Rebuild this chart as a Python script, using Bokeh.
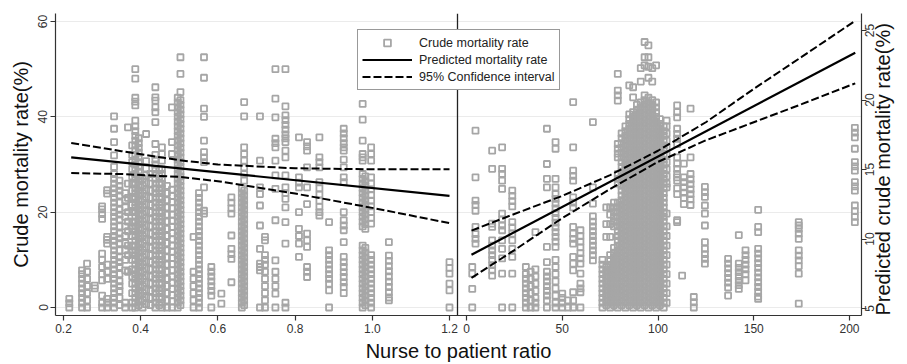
import math
from bokeh.plotting import figure
from bokeh.models import (Range1d, LinearAxis, FixedTicker, CustomJSTickFormatter,
                          Span, Legend, LegendItem)
from bokeh.embed import file_html
from bokeh.resources import INLINE

# ------------------------------------------------------------------ data
nurse_ticks = [0.2, 0.4, 0.6, 0.8, 1.0, 1.2]
density_ticks = [0, 50, 100, 150, 200]
crude_ticks = [0, 20, 40, 60]
pred_ticks = [5, 10, 15, 20, 25]

# crude mortality (%) by nurse-to-patient ratio: (ratio, [crude values])
nurse_cols_low = [
    (0.215, [0, 0.9, 1.8]),
    (0.248, [0, 1, 2, 3, 4, 5, 6, 7, 7.8]),
    (0.261, [0, 1.5, 3, 4.5, 6, 7.5, 9.2]),
    (0.281, [4.0, 4.6]),
    (0.300, [0, 1, 2.5, 5.7, 7, 8.5, 10, 11.3, 18.6, 19.6, 20.6, 21.2]),
    (0.313, [0, 1, 1.8, 6, 7.5, 9, 13.4, 14.2, 14.8, 23.9, 24.6]),
    (0.331, [0, 1, 2, 3, 4, 5, 6, 7, 8, 9, 10, 11, 12, 13, 14, 15, 16, 17, 18, 19, 20,
             21, 22, 23, 24, 25, 26, 27, 28, 29.5, 31.9, 34.7, 37.5, 40.1]),
    (0.345, [0.5, 2, 3.5, 4.5, 5.5, 7, 8.5, 9.5, 10.5, 12, 13.5, 14.5, 15.5, 17, 18.5,
             19.5, 20.5, 22, 23.5, 24.5, 25.5, 26.6]),
    (0.360, [0, 1, 7.8, 10, 12, 13.5, 15, 17, 19, 21, 22.5, 24]),
    (0.367, [7.5, 11, 13, 16, 18, 20, 23, 26, 37.8]),
    (0.378, [0, 1, 3, 5, 6.5, 8, 10, 11.5, 13, 15, 16.5, 18, 20, 21.5, 23, 24.5, 26, 27.5,
             29, 30.5, 32, 34]),
    (0.386, [0, 1, 2, 3, 4, 5, 6, 7, 8, 9, 10, 11, 12, 13, 14, 15, 16, 17, 18, 19, 20, 21,
             22, 23, 24, 25, 26, 27, 28, 29, 30, 31, 32, 33, 34, 35, 36, 37, 38, 39.2, 42.4,
             43.2, 44, 48, 50]),
    (0.395, [0.5, 1.5, 2.5, 3.5, 4.5, 5.5, 6.5, 7.5, 8.5, 9.5, 10.5, 11.5, 12.5, 13.5,
             14.5, 15.5, 16.5, 17.5, 18.5, 19.5, 20.5, 21.5, 22.5, 23.5, 24.5, 25.5, 26.5,
             27.5, 28.5, 29.5, 30.5, 31.5, 32.5, 33.5, 34.5, 35.5]),
    (0.405, [0, 1.5, 3, 4.5, 6, 7.5, 9, 10.5, 12, 13.5, 15, 16.5, 18, 19.5, 21, 22.5, 24,
             25.5, 27]),
    (0.414, [0.7, 2.2, 3.7, 5.2, 6.7, 8.2, 9.7, 11.2, 12.7, 14.2, 15.7, 17.2, 18.7, 20.2,
             21.7, 23.2, 24.7, 26.2, 27.7, 29.2, 30.7, 36.4]),
]
nurse_cols_mid = [
    (0.425, [0.5, 2, 3.5, 5, 6.5, 8, 9.5, 11, 12.5, 14, 15.5, 17, 18.5, 20, 21.5, 23, 24.5,
             26, 28]),
    (0.438, [0, 1, 2, 3, 4, 5, 6, 7, 8, 9, 10, 11, 12, 13, 14, 15, 16, 17, 18, 19, 20, 21,
             22, 23, 24, 25, 26, 27, 28, 29, 30, 31, 32, 34.3, 38.9, 41, 42, 43.4, 44.1,
             46.2]),
    (0.448, [0.5, 2, 3.5, 5, 6.5, 8, 9.5, 11, 12.5, 14, 15.5, 17, 18.5, 20, 21.5, 23, 24.5,
             26, 27.5, 29]),
    (0.455, [0, 1, 2, 3, 4, 5, 6, 7, 8, 9, 10, 11, 12, 13, 14, 15, 16, 17, 18, 19, 20, 21,
             22, 23, 24, 25, 26, 27, 28, 29, 30.8, 32.2, 33.6]),
    (0.468, [0, 1.5, 3, 4.5, 6, 7.5, 9, 10.5, 12, 13.5, 15, 16.5, 18, 19.5, 21, 22.5, 24,
             25.5]),
    (0.481, [0, 1.3, 2.6, 3.9, 5.2, 6.5, 7.8, 9.1, 10.4, 11.7, 13, 14.3, 15.6, 16.9, 18.2,
             19.5, 20.8, 22.1, 23.4, 24.7, 32.2, 34.7, 42]),
    (0.496, [0, 1, 2, 3, 4, 5, 6, 7, 8, 9, 10, 11, 12, 13, 14, 15, 16, 17, 18, 19, 20, 21,
             22, 23, 24, 25, 26, 27, 28, 29, 30, 31, 32, 33, 34, 35, 36, 37, 38, 39, 40, 41,
             42, 43, 44]),
    (0.503, [0.5, 1.5, 2.5, 3.5, 4.5, 5.5, 6.5, 7.5, 8.5, 9.5, 10.5, 11.5, 12.5, 13.5,
             14.5, 15.5, 16.5, 17.5, 18.5, 19.5, 20.5, 21.5, 22.5, 23.5, 24.5, 25.5, 26.5,
             27.5, 28.5, 29.5, 30.5, 31.5, 32.5, 33.5, 34.5, 35.5, 36.5, 37.5, 38.5, 39.5,
             40.5, 41.5, 42.5, 43.5, 45.2, 49, 52.5]),
    (0.537, [0, 1.5, 3, 4.5, 6, 7.5, 14.8]),
    (0.551, [0, 1, 2, 3, 4, 5, 6, 7, 8, 9, 10, 11, 12, 13, 14, 15, 16, 17, 18, 19, 20, 21,
             22, 23, 24]),
    (0.564, [19.7, 20.3, 25.2, 30.5, 31.5, 32.6, 35, 40, 41.7, 48.2, 52.5]),
    (0.583, [0, 2.5, 3.5, 4.5, 5.5, 6.5, 7.5, 8.5]),
]
nurse_cols_high = [
    (0.609, [0.8, 2.9]),
    (0.635, [5.3, 10.2, 11.2, 12.3, 15.1, 19.7, 20.8, 22, 23.1]),
    (0.662, [0, 1, 2, 3, 4, 5, 6, 7, 8, 9, 10, 11, 12, 13, 14, 15, 16, 17, 18, 19, 20, 21,
             22, 23, 24, 25]),
    (0.668, [0.5, 1.5, 2.5, 3.5, 4.5, 5.5, 6.5, 7.5, 8.5, 9.5, 10.5, 11.5, 12.5, 13.5,
             14.5, 15.5, 16.5, 17.5, 18.5, 19.5, 20.5, 21.5, 22.5, 23.5, 24.5, 26.6, 28,
             29.4, 30.8, 32.2, 33.6, 40.1, 43.1]),
    (0.709, [0, 7.8, 8.5, 9.2, 12.3, 17.2, 21.4, 23.8, 25.2, 30.8, 40.1]),
    (0.722, [0, 1.5, 3, 4.5, 6, 7.5, 9, 10, 11, 14.1, 14.8]),
    (0.749, [0, 2.9, 4.5, 6, 7.5, 9.9, 18.3, 24.9, 27.7, 30.8, 33.6, 34.5, 35.4, 39.9,
             43.8, 50]),
    (0.775, [0, 1, 13.4, 17.9, 21, 22.8, 24, 25.2, 27.7, 31.5, 32.9, 34.7, 35.5, 36.3,
             37.3, 38.3, 39.3, 40.3, 42.2, 50]),
    (0.810, [10.6, 13.4, 15, 16.5, 20, 25.2, 26.2, 27.3, 35.7]),
    (0.831, [6.4, 7.5, 8.5, 12.7, 14.1, 15.5, 21.7, 25.2, 29.4, 32.9, 33.8, 34.7]),
    (0.863, [19.3, 20, 21.1, 22.4, 23.7, 25, 26.3, 29.4, 30.5, 31.5, 35.7]),
    (0.888, [0, 3.6, 5, 6, 7, 8, 9, 10, 11, 12, 17.9]),
    (0.926, [3, 4.3, 5.3, 6.4, 7.4, 8.5, 9.5, 10.6, 13.7, 16.2, 17.2, 18.3, 20, 26.3,
             27.3, 29.4, 31, 32.9, 33.6, 34.5, 35.5, 36.5, 37.5]),
    (0.975, [0, 1, 2, 3, 4, 5, 6, 7, 8, 9, 10, 11, 12, 13, 17, 18, 19, 20, 21, 22, 23, 24,
             25, 26, 27, 28, 30.8, 31.5, 32.2, 35, 39.4, 42.7]),
    (0.982, [0.5, 1.5, 2.5, 3.5, 4.5, 5.5, 6.5, 7.5, 8.5, 9.5, 10.5, 11.5, 12.5, 16.5,
             17.5, 18.5, 19.5, 20.5, 21.5, 22.5, 23.5, 24.5, 25.5, 26.5, 27.5]),
    (0.997, [0, 1, 2, 3, 4, 5, 6, 7, 8, 9, 10, 11, 17.6, 18.8, 20, 21.2, 22.4, 23.6, 24.8,
             26, 27.3, 30.8, 32.2, 33.6]),
    (1.043, [1.5, 2.1, 3.2, 4.3, 5.4, 6.5, 7.6, 8.7, 9.8, 10.9, 13.7]),
    (1.200, [0, 3.6, 5, 7.1, 8.3, 9.5]),
]

# crude mortality (%) by patient density (%): (density, [crude values])
density_cols_low = [
    (3.0, [0, 3.9, 7.1, 8.5]),
    (4.7, [13.4, 14.4, 15.4, 16.9, 20.3, 21.5, 22.4, 27.3, 37.1]),
    (13.4, [6.7, 7.8, 8.9, 10, 11, 12, 13, 14.1, 16.9, 17.6, 29.1, 32.9]),
    (18.6, [0, 7.1, 10.3, 12.3, 14.1, 16.2, 17.2, 18.5, 19.7, 24.9, 26.6, 28, 29.1, 33.6]),
    (23.9, [0, 7.1, 10.6, 12.3, 14.1, 15.5, 16.8, 17.9, 21.2, 22.3, 23.4, 24.5]),
    (31.0, [0, 1, 2, 3, 4, 5, 6, 7, 8.5]),
    (33.5, [0, 1.5, 3, 4.5, 6, 7.5]),
    (36.0, [0, 1, 2, 3.5, 5, 6.5, 8, 15.8]),
    (42.0, [0, 1.5, 2.5, 3.5, 4.5, 5.5, 6.5, 7.5, 9.5, 12.7, 25.2, 27, 30.1, 37.5]),
    (46.5, [0, 1, 2.5, 4, 5.5, 7, 8.5, 10, 12.7, 13.8, 14.8, 15.8, 16.8, 17.8, 18.8, 19.8,
            20.8, 21.8, 22.8, 23.8, 25.2, 27, 33.3, 34.7]),
    (50.0, [0, 1, 2, 2.9]),
    (53.0, [0, 1.5]),
    (55.7, [0, 1.5, 3.2, 7.8, 9.2, 10.6, 13.4, 14.4, 15.5, 16.9, 21, 22, 23.1, 26.6, 27.6,
            28.7, 33.6, 43.1]),
    (59.5, [0, 3.2, 4, 5, 7.1, 9.2, 10.3, 11.4, 12.6, 13.8, 15, 16.2]),
    (66.0, [9.9, 11, 12, 13, 14, 15, 16, 17, 18, 19.1, 21.8, 25.2, 38.9]),
]
density_cols_core = [
    (71, [0, 1, 2, 3, 4, 5, 6, 7, 8, 9, 10]),
    (73, [0.5, 1.5, 2.5, 3.5, 4.5, 5.5, 6.5, 7.5, 8.5, 14.8, 17.5, 21]),
    (75, [0, 1, 2, 3, 4, 5, 6, 7, 8, 9, 10, 11, 14.8, 17.5, 19.5, 21]),
    (77, [0.5, 1.5, 2.5, 3.5, 4.5, 5.5, 6.5, 7.5, 8.5, 9.5, 10.5, 11.5, 12.5, 17, 18, 19,
          20, 21, 22]),
    (79, [0, 1, 2, 3, 4, 5, 6, 7, 8, 9, 10, 11, 12, 13, 14, 15, 16, 17, 18, 19, 20, 21, 22,
          26, 27, 28, 31.5, 32.3, 33.3, 34.3, 43.4, 44.5, 45.5, 49]),
    (81, [0.5, 1.5, 2.5, 3.5, 4.5, 5.5, 6.5, 7.5, 8.5, 9.5, 10.5, 11.5, 12.5, 13.5, 14.5,
          15.5, 16.5, 17.5, 18.5, 19.5, 20.5, 21.5, 22.5, 23.5, 24.5, 25.5, 26.5, 27.5,
          28.5, 29.5, 30.5, 31.5, 32.5, 33.5, 34.5, 35.5, 36.5]),
    (83, [0, 1, 2, 3, 4, 5, 6, 7, 8, 9, 10, 11, 12, 13, 14, 15, 16, 17, 18, 19, 20, 21, 22,
          23, 24, 25, 26, 27, 28, 29, 30, 31, 32, 33, 34, 35, 36, 37, 38]),
    (85, [0.5, 1.5, 2.5, 3.5, 4.5, 5.5, 6.5, 7.5, 8.5, 9.5, 10.5, 11.5, 12.5, 13.5, 14.5,
          15.5, 16.5, 17.5, 18.5, 19.5, 20.5, 21.5, 22.5, 23.5, 24.5, 25.5, 26.5, 27.5,
          28.5, 29.5, 30.5, 31.5, 32.5, 33.5, 34.5, 35.5, 36.5, 37.5, 38.5, 39.5, 40.5,
          46.6]),
    (87, [0, 1, 2, 3, 4, 5, 6, 7, 8, 9, 10, 11, 12, 13, 14, 15, 16, 17, 18, 19, 20, 21, 22,
          23, 24, 25, 26, 27, 28, 29, 30, 31, 32, 33, 34, 35, 36, 37, 38, 39, 40, 41, 44.1,
          46.2]),
    (89, [0.5, 1.5, 2.5, 3.5, 4.5, 5.5, 6.5, 7.5, 8.5, 9.5, 10.5, 11.5, 12.5, 13.5, 14.5,
          15.5, 16.5, 17.5, 18.5, 19.5, 20.5, 21.5, 22.5, 23.5, 24.5, 25.5, 26.5, 27.5,
          28.5, 29.5, 30.5, 31.5, 32.5, 33.5, 34.5, 35.5, 36.5, 37.5, 38.5, 39.5, 40.5,
          41.5, 42.5]),
    (91, [0, 1, 2, 3, 4, 5, 6, 7, 8, 9, 10, 11, 12, 13, 14, 15, 16, 17, 18, 19, 20, 21, 22,
          23, 24, 25, 26, 27, 28, 29, 30, 31, 32, 33, 34, 35, 36, 37, 38, 39, 40, 41, 42,
          43, 47.4, 50.2]),
    (93, [0.5, 1.5, 2.5, 3.5, 4.5, 5.5, 6.5, 7.5, 8.5, 9.5, 10.5, 11.5, 12.5, 13.5, 14.5,
          15.5, 16.5, 17.5, 18.5, 19.5, 20.5, 21.5, 22.5, 23.5, 24.5, 25.5, 26.5, 27.5,
          28.5, 29.5, 30.5, 31.5, 32.5, 33.5, 34.5, 35.5, 36.5, 37.5, 38.5, 39.5, 40.5,
          41.5, 42.5, 43.5, 44.5, 50.8, 52.5, 55.7]),
    (95, [0, 1, 2, 3, 4, 5, 6, 7, 8, 9, 10, 11, 12, 13, 14, 15, 16, 17, 18, 19, 20, 21, 22,
          23, 24, 25, 26, 27, 28, 29, 30, 31, 32, 33, 34, 35, 36, 37, 38, 39, 40, 41, 42,
          43, 44, 48.2, 50.5, 52.5, 55]),
    (97, [0.5, 1.5, 2.5, 3.5, 4.5, 5.5, 6.5, 7.5, 8.5, 9.5, 10.5, 11.5, 12.5, 13.5, 14.5,
          15.5, 16.5, 17.5, 18.5, 19.5, 20.5, 21.5, 22.5, 23.5, 24.5, 25.5, 26.5, 27.5,
          28.5, 29.5, 30.5, 31.5, 32.5, 33.5, 34.5, 35.5, 36.5, 37.5, 38.5, 39.5, 40.5,
          41.5, 42.5, 43.5, 47.4, 50.2]),
    (99, [0, 1, 2, 3, 4, 5, 6, 7, 8, 9, 10, 11, 12, 13, 14, 15, 16, 17, 18, 19, 20, 21, 22,
          23, 24, 25, 26, 27, 28, 29, 30, 31, 32, 33, 34, 35, 36, 37, 38, 39, 40, 41, 42,
          43, 50.8]),
    (101, [0.5, 1.5, 2.5, 3.5, 4.5, 5.5, 6.5, 7.5, 8.5, 9.5, 10.5, 11.5, 12.5, 13.5, 14.5,
           15.5, 16.5, 17.5, 18.5, 19.5, 20.5, 21.5, 22.5, 23.5, 24.5, 25.5, 26.5, 27.5,
           28.5, 29.5, 30.5, 31.5, 32.5, 33.5, 34.5, 35.5, 36.5, 37.5, 38.5, 39.5]),
    (103, [0, 1, 2, 3, 4, 5, 6, 7, 8, 9, 10, 11, 12, 13, 14, 15, 16, 17, 18, 19, 20, 21,
           22, 23, 24, 25, 26, 27, 28, 29, 30, 31, 32, 33, 34, 35, 36, 37, 38]),
    (104.5, [1, 3, 5, 7, 9, 11, 13, 15, 17, 19.7, 25.2, 26, 27.5, 29, 30.5, 32, 33.5, 35,
             36.5, 38, 39.2]),
]
density_cols_high = [
    (110.0, [17.9, 18.3, 23.8, 25, 26.6, 27.3, 28, 29.1, 30.2, 31.5, 34.3, 35.4, 36.4,
             37.5, 39.9, 41, 42.4]),
    (112.6, [6.7]),
    (113.5, [21.7, 23, 24.1, 25.2, 26.3, 27.3, 30.2]),
    (117.0, [21.5, 22.7, 23.8, 24.8, 25.9, 26.9, 28, 31.5, 41.7]),
    (118.7, [0, 1.1, 2.2]),
    (124.5, [9.2, 10.2, 11.2, 12.3, 13.7, 17.2, 19.7, 21.4, 23.2, 24.2, 25.3]),
    (136.6, [2.5, 4.2, 5.2, 6.2, 7.2, 8.2, 9.2, 10.2]),
    (142.2, [3.9, 4.7, 5.6, 6.5, 7.4, 8.3, 9.2, 15.2]),
    (145.7, [5.7, 7, 8, 9, 10, 11, 12]),
    (152.3, [1.8, 2.3, 3.3, 4.3, 5.3, 6.3, 7.3, 8.3, 9.3, 10.3, 11.3, 12.3, 15.8, 16.9,
             20.5]),
    (173.5, [0.8, 7.1, 8.7, 9.9, 10.9, 12, 14.4, 15.5, 16.5, 17.2, 17.9]),
    (202.8, [17.9, 19, 20.2, 21.4, 24.5, 25.4, 26.3, 28.7, 29.6, 30.5, 33.3, 35.7, 36.7,
             37.7]),
]

# fitted lines
nurse_fit_x = [0.22, 1.2]
nurse_fit_y = [31.5, 23.4]
nurse_ci_x = [0.22, 0.35, 0.5, 0.6, 0.8, 1.0, 1.2]
nurse_ci_up = [34.5, 32.8, 30.9, 30.0, 29.2, 29.0, 29.0]
nurse_ci_lo = [28.2, 28.0, 27.4, 26.5, 23.9, 20.9, 17.7]

dens_fit_x = [2.6, 203]
dens_fit_y = [8.86, 23.4]          # predicted crude mortality (%), right axis
dens_ci_x = [2.6, 25, 50, 75, 100, 125, 150, 175, 203]
dens_ci_up = [10.6, 11.8, 13.1, 14.6, 16.35, 18.4, 20.8, 23.1, 25.7]
dens_ci_lo = [7.2, 9.2, 11.5, 13.6, 15.55, 17.1, 18.4, 19.7, 21.2]

# ------------------------------------------------------------------ layout
W, H = 907, 364
BL, BR, BT, BB = 55, 46, 13, 49
FW = W - BL - BR
FH = H - BT - BB
N_PX = 386.0                  # px per nurse-ratio unit
D_PX = 1.915                  # px per density unit
C_PX = 4.767                  # px per crude % unit
PR_PX = 13.9                  # px per predicted % unit
n_start = 0.2 - 8 / N_PX
n_end = n_start + FW / N_PX
n_div = 1.2 + 8 / N_PX
div_px = (n_div - n_start) * N_PX
d_start = -(div_px + 9) / D_PX
d_end = d_start + FW / D_PX
c_start = -8 / C_PX
c_end = c_start + FH / C_PX
p_start = 5 - 7 / PR_PX
p_end = p_start + FH / PR_PX

FONT = "Liberation Sans"
TICK_FS = 12

p = figure(width=W, height=H, output_backend="svg", toolbar_location=None,
           x_range=Range1d(n_start, n_end), y_range=Range1d(c_start, c_end),
           min_border_left=BL, min_border_right=BR, min_border_top=BT,
           min_border_bottom=BB, x_axis_label="Nurse to patient ratio",
           y_axis_label="Crude mortality rate(%)")
p.extra_x_ranges = {"dens": Range1d(d_start, d_end)}
p.extra_y_ranges = {"pred": Range1d(p_start, p_end)}
p.outline_line_color = None
p.background_fill_color = "white"
p.border_fill_color = "white"
p.xgrid.visible = False
p.ygrid.grid_line_color = "#ebebeb"
p.ygrid.grid_line_width = 1

# bottom axis: nurse ticks + density ticks placed on the nurse scale
dens_as_nurse = [n_start + (d - d_start) * D_PX / N_PX for d in density_ticks]
p.xaxis.ticker = FixedTicker(ticks=nurse_ticks + dens_as_nurse)
p.xaxis.formatter = CustomJSTickFormatter(
    args=dict(ns=n_start, ds=d_start, r=N_PX / D_PX, cut=n_div),
    code="""
    if (tick < cut) { return tick.toFixed(1); }
    return String(Math.round(ds + (tick - ns) * r));
    """)
p.yaxis.ticker = FixedTicker(ticks=crude_ticks)

# right axis: its rotated labels start at their anchor, so each label anchor is
# moved down by half the label length; the tick marks are drawn as minor ticks
half_len = [len(str(t)) * 0.556 * TICK_FS / 2 / PR_PX for t in pred_ticks]
ra = LinearAxis(y_range_name="pred",
                ticker=FixedTicker(ticks=[t - h for t, h in zip(pred_ticks, half_len)],
                                   minor_ticks=pred_ticks),
                formatter=CustomJSTickFormatter(code="return String(Math.round(tick));"),
                axis_label="Predicted crude mortality rate(%)")
p.add_layout(ra, "right")

for ax in [p.xaxis[0], p.yaxis[0], ra]:
    ax.axis_line_color = "#333333"
    ax.axis_line_width = 1.2
    ax.major_tick_line_color = "#333333"
    ax.major_tick_line_width = 1.2
    ax.major_tick_out = 5
    ax.major_tick_in = 0
    ax.minor_tick_line_color = None
    ax.major_label_text_font = FONT
    ax.major_label_text_font_size = f"{TICK_FS}px"
    ax.major_label_text_color = "#333333"
    ax.major_label_standoff = 3
    ax.axis_label_text_font = FONT
    ax.axis_label_text_font_size = "20px"
    ax.axis_label_text_font_style = "normal"
    ax.axis_label_text_color = "#111111"
    ax.axis_label_standoff = 2
p.xaxis[0].axis_label_standoff = 4
p.yaxis[0].axis_label_standoff = 4
p.yaxis[0].major_label_orientation = "parallel"

ra.major_tick_line_color = None
ra.minor_tick_line_color = "#333333"
ra.minor_tick_line_width = 1.2
ra.minor_tick_out = 5
ra.minor_tick_in = 0
ra.major_label_orientation = math.pi / 2
ra.axis_label_orientation = math.pi / 2
ra.axis_label_standoff = 1
try:
    ra.axis_label_align = "start"
except Exception:
    pass


def flatten(*groups):
    xs, ys = [], []
    for cols in groups:
        for x, vals in cols:
            xs += [x] * len(vals)
            ys += list(vals)
    return xs, ys


nx, ny = flatten(nurse_cols_low, nurse_cols_mid, nurse_cols_high)
dx, dy = flatten(density_cols_low, density_cols_core, density_cols_high)

MK = dict(marker="square", size=6, line_width=1.8, line_color="#a6a6a6",
          fill_color=None)
sc_n = p.scatter(nx, ny, **MK)
sc_d = p.scatter(dx, dy, x_range_name="dens", **MK)

fit_n = p.line(nurse_fit_x, nurse_fit_y, line_color="black", line_width=2.2)
up_n = p.line(nurse_ci_x, nurse_ci_up, line_color="black", line_width=2,
              line_dash="8 3")
p.line(nurse_ci_x, nurse_ci_lo, line_color="black", line_width=2, line_dash="8 3")

p.line(dens_fit_x, dens_fit_y, x_range_name="dens", y_range_name="pred",
       line_color="black", line_width=2.2)
p.line(dens_ci_x, dens_ci_up, x_range_name="dens", y_range_name="pred",
       line_color="black", line_width=2, line_dash="8 3")
p.line(dens_ci_x, dens_ci_lo, x_range_name="dens", y_range_name="pred",
       line_color="black", line_width=2, line_dash="8 3")

p.add_layout(Span(location=n_div, dimension="height", line_color="#222222",
                  line_width=1.3))

legend = Legend(items=[LegendItem(label="Crude mortality rate", renderers=[sc_n]),
                       LegendItem(label="Predicted mortality rate", renderers=[fit_n]),
                       LegendItem(label="95% Confidence interval", renderers=[up_n])],
                location=(302, 225), orientation="vertical",
                border_line_color="#333333", border_line_width=1.2,
                background_fill_color="white", background_fill_alpha=1,
                padding=4, spacing=0, margin=0, glyph_width=50, glyph_height=17,
                label_height=17, label_standoff=7, label_text_font=FONT,
                label_text_font_size="12.5px", label_text_color="#222222")
p.add_layout(legend)

open("out.html", "w").write(file_html(p, INLINE))
